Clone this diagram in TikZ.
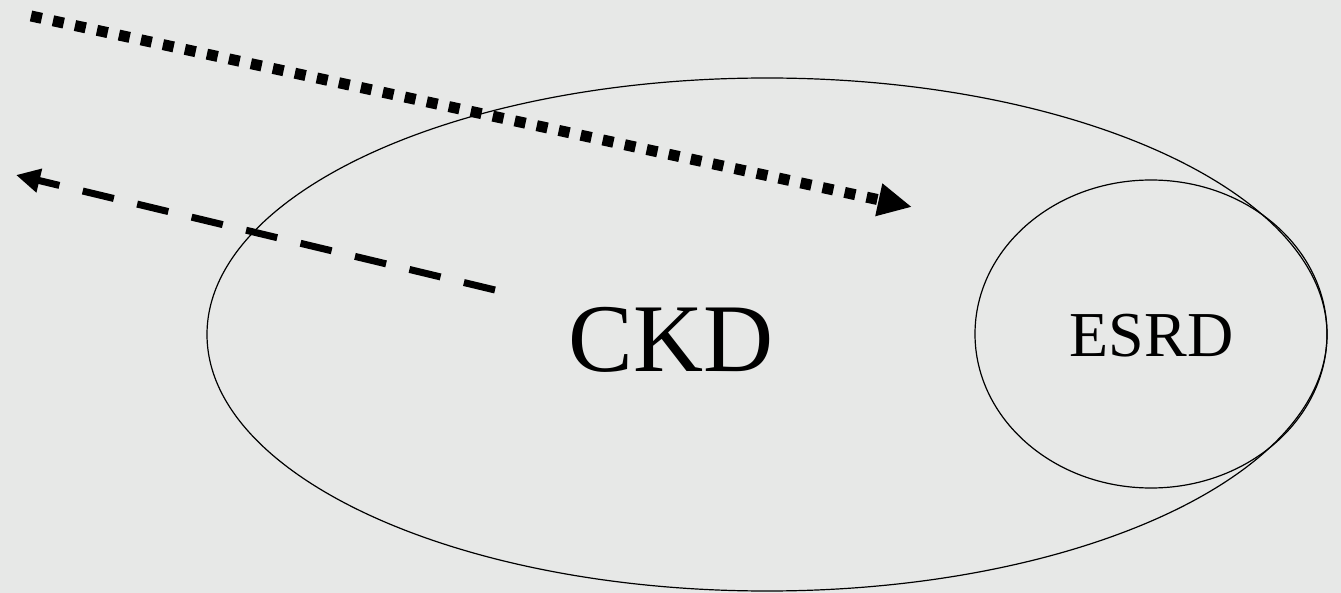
\documentclass[tikz,border=0pt]{standalone}
\usepackage{fontspec}
\setmainfont{Liberation Serif}
\usetikzlibrary{shapes.geometric,arrows.meta}
\definecolor{bggray}{HTML}{E7E8E7}

\begin{document}
\begin{tikzpicture}[x=1pt,y=-1pt,
    ring/.style={draw,ellipse,line width=1.2pt,inner sep=0pt,outer sep=0pt},
    dotarrow/.style={line width=11pt,dash pattern=on 11pt off 11.5pt,-{Triangle[length=34pt,width=31pt]}},
    dasharrow/.style={line width=7pt,dash pattern=on 32pt off 24pt,-{Triangle[length=24pt,width=23pt]}}]
    \fill[bggray] (0,0) rectangle (1341,593);
    \useasboundingbox (0,0) rectangle (1341,593);
    \node[ring,minimum width=1120pt,minimum height=513pt] (ckd) at (767,334.5) {};
    \node[ring,minimum width=352pt,minimum height=308pt] (esrd) at (1151,334) {};
    \node[anchor=base,inner sep=0pt,font=\fontsize{97}{97}\selectfont] (ckdtext) at (671,371) {CKD};
    \node[anchor=base,inner sep=0pt,font=\fontsize{64}{64}\selectfont] (esrdtext) at (1151.5,357) {ESRD};
    \coordinate (dotstart) at (31,16);
    \coordinate (dotend) at (912,207);
    \coordinate (dashstart) at (495,290);
    \coordinate (dashend) at (16,175);
    \draw[dotarrow] (dotstart) -- (dotend);
    \draw[dasharrow] (dashstart) -- (dashend);
\end{tikzpicture}
\end{document}
